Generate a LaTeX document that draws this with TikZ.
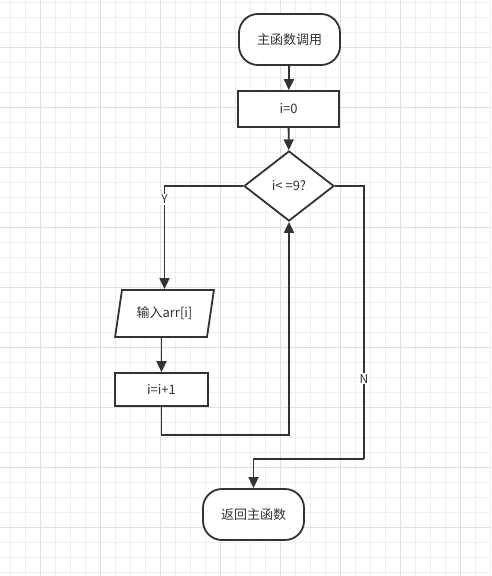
\documentclass[tikz,border=0pt]{standalone}
\usepackage{fontspec}
\setmainfont{Noto Sans CJK SC}
\usepackage{xcolor}
\usepackage{tikz}
\usetikzlibrary{shapes.geometric,arrows.meta,positioning,calc}
\definecolor{ink}{RGB}{51,51,51}
\definecolor{gridminor}{RGB}{239,239,239}
\definecolor{gridmajor}{RGB}{224,224,224}

\begin{document}
\begin{tikzpicture}[x=1pt,y=-1pt,
  term/.style={draw=ink,line width=1.8pt,rounded corners=19pt,fill=white,
    font=\fontsize{13}{15}\selectfont,text=ink,minimum width=101pt,minimum height=51pt},
  proc/.style={draw=ink,line width=1.8pt,fill=white,
    font=\fontsize{13}{15}\selectfont,text=ink,minimum width=101pt,minimum height=36pt},
  cond/.style={diamond,draw=ink,line width=1.8pt,fill=white,inner sep=0pt,
    font=\fontsize{13}{15}\selectfont,text=ink,minimum width=90pt,minimum height=70pt},
  io/.style={trapezium,trapezium left angle=71,trapezium right angle=109,
    trapezium stretches=true,draw=ink,line width=1.8pt,fill=white,inner sep=0pt,
    font=\fontsize{13}{15}\selectfont,text=ink,minimum width=99pt,minimum height=47pt},
  flow/.style={-{Triangle[length=11pt,width=10pt]},line width=1.8pt,ink},
  tag/.style={fill=white,inner sep=1pt,text=ink,font=\fontsize{12}{14}\selectfont},
]
  \useasboundingbox (0,0) rectangle (491,576);
  % background grid
  \foreach \gx in {10,25,...,490} \draw[gridminor,line width=1pt] (\gx,0) -- (\gx,576);
  \foreach \gy in {2,17,...,572} \draw[gridminor,line width=1pt] (0,\gy) -- (491,\gy);
  \foreach \gx in {40,100,...,460} \draw[gridmajor,line width=1pt] (\gx,0) -- (\gx,576);
  \foreach \gy in {47,107,...,527} \draw[gridmajor,line width=1pt] (0,\gy) -- (491,\gy);

  \node[term] (start) at (289.5,39.5) {主函数调用};
  \node[proc] (init) at (288.5,109) {i=0};
  \node[cond] (check) at (289,186) {i< =9?};
  \node[io] (input) at (164.5,313.5) {输入arr[i]};
  \node[proc,minimum width=93pt,minimum height=33pt] (incr) at (161.5,389.5) {i=i+1};
  \node[term] (finish) at (253.5,514.5) {返回主函数};
  \coordinate (back) at (289,435);
  \coordinate (nturn) at (364,459);

  \draw[flow] (start) -- (init);
  \draw[flow] (init) -- (check);
  \draw[flow] (check.west) -| node[tag,pos=0.565]{Y} (input.north);
  \draw[flow] (incr.north |- input.south) -- (incr.north);
  \draw[flow] (incr.south) |- (back) -- (check.south);
  \draw[line width=1.8pt,ink] (check.east) -| node[tag,pos=0.853]{N} (nturn);
  \draw[flow] (nturn) -| (finish.north);
\end{tikzpicture}
\end{document}
